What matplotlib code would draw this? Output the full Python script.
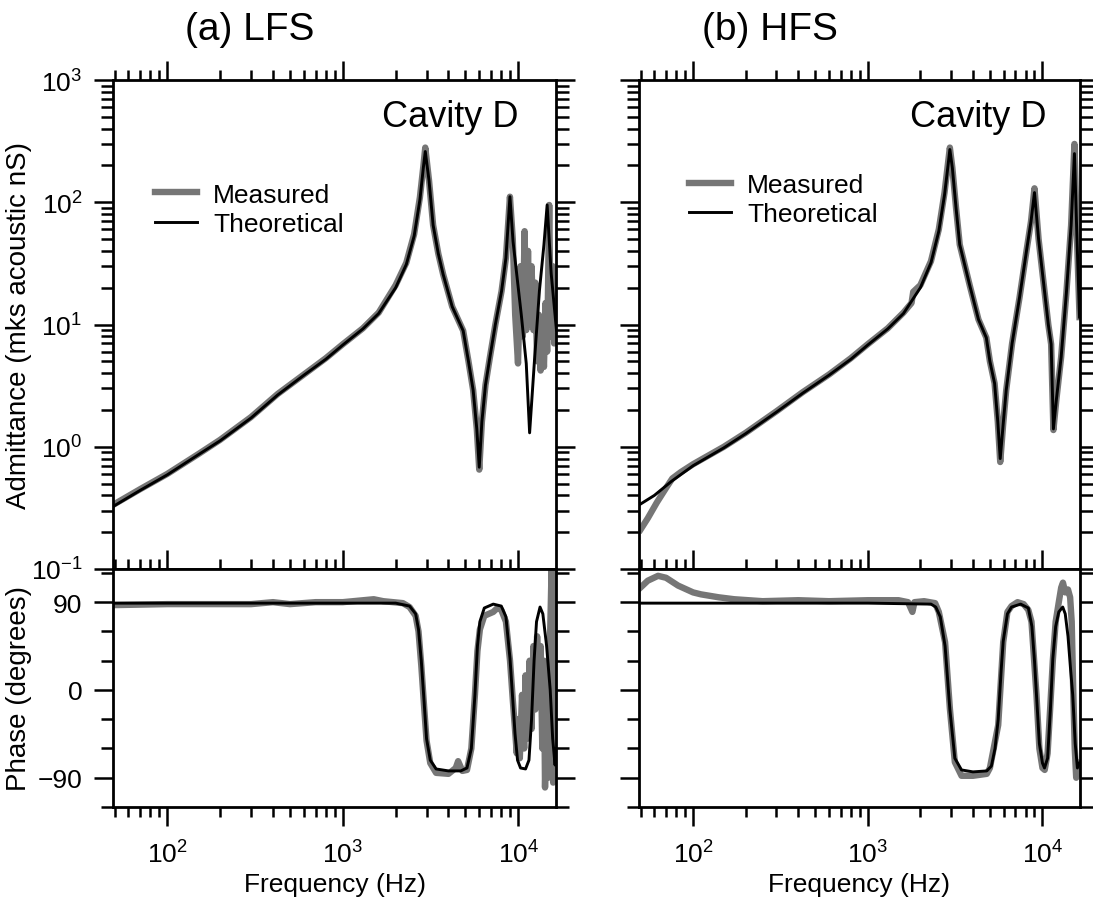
import matplotlib
matplotlib.use("Agg")
import matplotlib.pyplot as plt
import numpy as np
from matplotlib.ticker import LogLocator, FixedLocator, FuncFormatter, NullFormatter

plt.rcParams['font.family'] = ['Liberation Sans', 'DejaVu Sans']
plt.rcParams['mathtext.fontset'] = 'custom'
plt.rcParams['mathtext.rm'] = 'Liberation Sans'
plt.rcParams['mathtext.default'] = 'regular'

# ---- (a) LFS admittance ----
lfs_adm_meas_f = [50, 70, 100, 150, 200, 300, 425, 600, 800, 1000, 1300, 1600, 2000, 2300, 2550, 2750, 2880, 2950,
                  3100, 3270, 3500, 3730, 4200, 4850, 5200, 5530, 5800, 5990, 6200, 6500, 6890, 7400, 8030, 8500, 8960,
                  9300, 9600, 9960, 10300, 10600, 10860, 11100, 11360, 11600, 11900, 12200, 12500, 12800, 13100,
                  13400, 13700, 14000, 14300, 14600, 15000, 15300, 15700, 16000, 16500]
lfs_adm_meas = [0.34, 0.45, 0.60, 0.87, 1.14, 1.75, 2.7, 3.9, 5.3, 6.9, 9.3, 12.5, 21, 32, 55, 110, 200, 280,
                150, 65, 38, 25.7, 14, 8.9, 5, 2.9, 1.4, 0.65, 1.6, 3.2, 5.4, 10, 18.8, 35, 111,
                50, 12, 4.8, 30, 8, 58, 9, 40, 10, 30, 9, 22, 5, 12,
                4.2, 10, 4.5, 15, 6, 95, 8, 30, 7, 20]
lfs_adm_theo_f = [50, 70, 100, 150, 200, 300, 425, 600, 800, 1000, 1300, 1600, 2000, 2300, 2550, 2750, 2880, 2950,
                  3100, 3270, 3500, 3730, 4200, 4850, 5200, 5530, 5800, 5990, 6200, 6500, 6890, 7400, 8030, 8500, 8960,
                  9330, 10400, 11100, 11600, 12400, 13200, 14000, 14600, 15400, 16500]
lfs_adm_theo = [0.33, 0.44, 0.59, 0.86, 1.12, 1.72, 2.65, 3.85, 5.2, 6.8, 9.2, 12.3, 20, 31, 53, 105, 195, 260,
                150, 65, 38, 25.7, 14, 8.9, 5, 2.9, 1.4, 0.68, 1.6, 3.2, 5.4, 10, 18.8, 35, 111,
                48, 12, 4.8, 1.3, 5.4, 19, 45, 95, 26, 9]

# ---- (b) HFS admittance ----
hfs_adm_meas_f = [50, 55, 62, 70, 76, 85, 100, 150, 200, 300, 425, 600, 800, 1000, 1300, 1600, 1780, 1820, 2000,
                  2300, 2550, 2750, 2880, 2950, 3050, 3200, 3360, 3830, 4300, 4770, 5000, 5320, 5550, 5730, 5950,
                  6200, 6700, 7390, 8100, 8600, 9000, 9500, 10270, 10800, 11210, 11550, 12000, 12790, 13700, 14590,
                  15240, 15700, 16300]
hfs_adm_meas = [0.21, 0.26, 0.35, 0.46, 0.55, 0.62, 0.72, 1.0, 1.3, 1.95, 2.8, 3.9, 5.3, 6.9, 9.3, 12.5, 15, 18.5, 21,
                33, 60, 120, 210, 280, 190, 90, 45, 21, 11, 7.8, 5, 3.3, 1.6, 0.75, 1.5,
                2.9, 7, 16.6, 40, 70, 130, 50, 18.8, 10, 6.9, 1.37, 2.4, 5.4, 18, 65,
                300, 60, 11.5]
hfs_adm_theo_f = [50, 60, 75, 100, 150, 200, 300, 425, 600, 800, 1000, 1300, 1600, 2000,
                  2300, 2550, 2750, 2880, 2950, 3050, 3200, 3360, 3830, 4300, 4770, 5000, 5320, 5550, 5730, 5950,
                  6200, 6700, 7390, 8100, 8600, 9000, 9500, 10270, 10800, 11210, 11550, 12000, 12790, 13700, 14590,
                  15240, 15700, 16300]
hfs_adm_theo = [0.34, 0.40, 0.52, 0.70, 0.98, 1.28, 1.92, 2.75, 3.85, 5.2, 6.8, 9.2, 12.3, 20,
                32, 58, 115, 200, 270, 190, 90, 45, 21, 11, 7.8, 5, 3.3, 1.6, 0.8, 1.5,
                2.9, 7, 16.6, 40, 70, 120, 50, 18.8, 10, 6.9, 1.4, 2.4, 5.4, 18, 65,
                250, 60, 11.5]

# ---- (a) LFS phase ----
lfs_ph_meas_f = [50, 100, 300, 400, 500, 700, 1000, 1500, 1700, 2200, 2400, 2600, 2700, 2800, 2900, 3000, 3150, 3400,
                 4000, 4400, 4540, 4800, 5100, 5400, 5660, 5850, 6040, 6400, 7200, 7600, 8000, 8500, 8970, 9300, 9600,
                 9800, 10000, 10200, 10500, 10800, 11000, 11300, 11600, 11900, 12200, 12500, 12800, 13100, 13400,
                 13700, 14000, 14200, 14500, 14800, 15200, 15500, 15800, 16100, 16400]
lfs_ph_meas = [87, 88, 88, 90, 88, 90, 90, 93, 91, 89, 85, 76, 60, 25, -15, -52, -75, -85,
               -86, -80, -73, -83, -82, -60, -5, 40, 62, 76, 80, 84, 82, 70, 30, -10, -43,
               -65, -30, -70, -5, -60, 15, -50, 30, -40, 45, -20, 55, 0, 45,
               -60, 30, -100, -20, -90, 60, 130, -95, 130, -60]
lfs_ph_theo_f = [50, 1000, 2000, 2400, 2600, 2700, 2800, 2900, 3000, 3150, 3400, 4000, 4700, 5100, 5400, 5660, 5850,
                 6040, 6400, 7200, 8000, 8500, 8970, 9300, 9580, 9900, 10300, 11000, 11500, 11900, 12300, 12700,
                 13300, 13800, 14500, 15200, 15700, 16200, 16400]
lfs_ph_theo = [89, 89, 89, 86, 78, 62, 30, -10, -50, -72, -81, -83, -83, -80, -60, -5, 45,
               70, 84, 88, 86, 75, 32, -10, -45, -72, -80, -81, -72, -30, 30, 70,
               85, 78, 45, 0, -50, -77, -60]

# ---- (b) HFS phase ----
hfs_ph_meas_f = [50, 55, 63, 70, 82, 100, 111, 140, 172, 250, 400, 600, 1000, 1500, 1700, 1800, 1850, 2100, 2430,
                 2550, 2770, 2950, 3150, 3440, 4000, 4800, 5000, 5580, 5960, 6300, 6650, 7200, 7800, 8300, 8650,
                 9240, 9600, 10000, 10300, 10700, 11100, 11460, 11900, 12400, 12800, 13100, 13500, 14000, 14400,
                 14700, 15000, 15300, 15600, 15900, 16200]
hfs_ph_meas = [105, 112, 117, 115, 107, 100, 98, 95, 93, 91, 92, 91, 92, 92, 90, 80, 90, 91, 89,
               80, 49, -19, -74, -88, -88, -86, -80, -36, 49, 80, 86, 90, 88, 82, 70,
               -5, -60, -80, -82, -65, -15, 30, 70, 90, 105, 110, 100, 103, 95,
               70, 0, -60, -90, -80, -75]
hfs_ph_theo_f = [50, 1000, 2300, 2450, 2600, 2770, 2950, 3150, 3440, 4000, 4800, 5100, 5350, 5580, 5800, 5960, 6300,
                 6650, 7500, 8300, 8700, 9000, 9240, 9600, 10000, 10270, 10700, 11100, 11460, 11900, 12400, 13060,
                 13500, 14000, 14500, 14900, 15400, 15850, 16300]
hfs_ph_theo = [89, 89, 88, 85, 75, 45, -20, -70, -82, -84, -83, -78, -60, -30, 20, 50, 78,
               85, 88, 84, 65, 30, -5, -55, -75, -80, -70, -20, 32, 65, 80, 85,
               78, 55, 20, -5, -55, -80, -75]

fmin, fmax = 49, 16400
meas_color = '#767676'

fig = plt.figure(figsize=(10.93, 9.04), dpi=100)
W, H = 1093, 904


def axes_px(x0, y0, x1, y1):
    return fig.add_axes([x0 / W, 1 - y1 / H, (x1 - x0) / W, (y1 - y0) / H])


def style(ax, log_y):
    for s in ax.spines.values():
        s.set_linewidth(2.0)
    ax.set_xscale('log')
    ax.set_xlim(fmin, fmax)
    ax.xaxis.set_major_locator(LogLocator(base=10, numticks=10))
    ax.xaxis.set_minor_locator(LogLocator(base=10, subs=np.arange(2, 10), numticks=20))
    ax.xaxis.set_minor_formatter(NullFormatter())
    ax.tick_params(which='both', direction='out', top=True, right=True, width=1.8, labelsize=19)
    ax.tick_params(axis='x', which='major', length=14, pad=10)
    ax.tick_params(axis='x', which='minor', length=7)
    ax.tick_params(axis='y', which='major', length=14, pad=8)
    ax.tick_params(axis='y', which='minor', length=9)
    ax.xaxis.set_major_formatter(FuncFormatter(lambda v, p: r'$10^{%d}$' % round(np.log10(v))))
    if log_y:
        ax.set_yscale('log')
        ax.set_ylim(0.1, 1000)
        ax.yaxis.set_major_locator(LogLocator(base=10, numticks=10))
        ax.yaxis.set_minor_locator(LogLocator(base=10, subs=np.arange(2, 10), numticks=20))
        ax.yaxis.set_minor_formatter(NullFormatter())
        ax.yaxis.set_major_formatter(FuncFormatter(lambda v, p: r'$10^{%d}$' % round(np.log10(v))))
    else:
        ax.set_ylim(-120, 124)
        ax.yaxis.set_major_locator(FixedLocator([-90, 0, 90]))
        ax.yaxis.set_minor_locator(FixedLocator([-120, -60, -30, 30, 60, 120]))


panels = [
    (113, 556, '(a) LFS', 250, lfs_adm_meas_f, lfs_adm_meas, lfs_adm_theo_f, lfs_adm_theo,
     lfs_ph_meas_f, lfs_ph_meas, lfs_ph_theo_f, lfs_ph_theo, (0.095, 0.79)),
    (639, 1080, '(b) HFS', 770, hfs_adm_meas_f, hfs_adm_meas, hfs_adm_theo_f, hfs_adm_theo,
     hfs_ph_meas_f, hfs_ph_meas, hfs_ph_theo_f, hfs_ph_theo, (0.113, 0.81)),
]

for i, (x0, x1, title, tx, amf, am, atf, at, pmf, pm, ptf, pt, legpos) in enumerate(panels):
    ax1 = axes_px(x0, 81, x1, 570)
    ax2 = axes_px(x0, 570, x1, 808)
    style(ax1, True)
    style(ax2, False)

    m_line, = ax1.plot(amf, am, color=meas_color, lw=4.6, solid_joinstyle='round', label='Measured')
    t_line, = ax1.plot(atf, at, color='black', lw=2.1, label='Theoretical')
    ax2.plot(pmf, pm, color=meas_color, lw=4.6, solid_joinstyle='round')
    ax2.plot(ptf, pt, color='black', lw=2.1)

    ax1.tick_params(labelbottom=False)
    ax1.text(0.915 if i == 0 else 0.925, 0.926, 'Cavity D', transform=ax1.transAxes,
             ha='right', va='center', fontsize=26)
    ax1.legend(loc='upper left', bbox_to_anchor=legpos, frameon=False, fontsize=19,
               handlelength=1.6, handletextpad=0.6, labelspacing=0.2, borderpad=0, borderaxespad=0)
    ax2.set_xlabel('Frequency (Hz)', fontsize=19)
    ax2.xaxis.set_label_coords(0.5, -0.275)

    if i == 0:
        ax1.set_ylabel('Admittance (mks acoustic nS)', fontsize=20)
        ax1.yaxis.set_label_coords(-0.183, 0.5)
        ax2.set_ylabel('Phase (degrees)', fontsize=20)
        ax2.yaxis.set_label_coords(-0.183, 0.5)
    else:
        ax1.tick_params(labelleft=False)
        ax2.tick_params(labelleft=False)

    fig.text(tx / W, 1 - 30 / H, title, ha='center', va='center', fontsize=28)

fig.savefig('out.png', dpi=100)
